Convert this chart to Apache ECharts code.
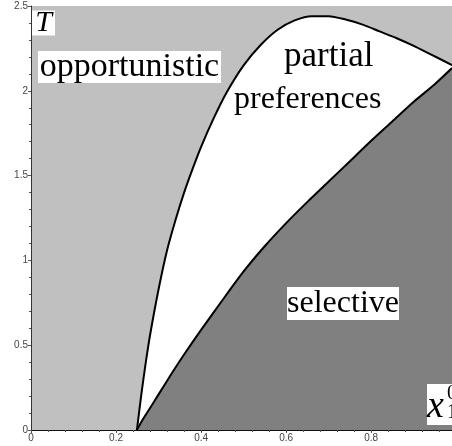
<!DOCTYPE html>
<html>
<head>
<meta charset="utf-8">
<script src="https://cdn.jsdelivr.net/npm/echarts@6/dist/echarts.min.js"></script>
<style>
  html, body { margin: 0; padding: 0; background: #fff; }
  #chart { width: 452px; height: 446px; }
</style>
</head>
<body>
<div id="chart"></div>
<script>
// Upper boundary: opportunistic / partial preferences
const upperX = [0.249, 0.26, 0.27, 0.28, 0.30, 0.32, 0.34, 0.36, 0.38, 0.40, 0.43, 0.46, 0.50, 0.54, 0.58, 0.62, 0.66, 0.70, 0.74, 0.78, 0.82, 0.86, 0.90, 0.94, 0.99];
const upperT = [0.0, 0.22, 0.40, 0.56, 0.83, 1.06, 1.24, 1.40, 1.54, 1.67, 1.84, 1.99, 2.15, 2.27, 2.36, 2.415, 2.44, 2.44, 2.42, 2.39, 2.35, 2.31, 2.265, 2.215, 2.152];

// Lower boundary: partial preferences / selective
const lowerX = [0.249, 0.26, 0.28, 0.30, 0.33, 0.36, 0.40, 0.45, 0.50, 0.55, 0.60, 0.65, 0.70, 0.75, 0.80, 0.85, 0.90, 0.95, 0.99];
const lowerT = [0.0, 0.05, 0.13, 0.21, 0.33, 0.445, 0.59, 0.765, 0.935, 1.085, 1.22, 1.345, 1.465, 1.585, 1.705, 1.82, 1.935, 2.04, 2.134];

const xTicks = [0, 0.2, 0.4, 0.6, 0.8];
const yTicks = [0, 0.5, 1, 1.5, 2, 2.5];

const LIGHT = '#c0c0c0';
const DARK = '#808080';
const SERIF = '"Liberation Serif", "DejaVu Serif", serif';

const pairs = (xs, ys) => xs.map((x, i) => [x, ys[i]]);

const chart = echarts.init(document.getElementById('chart'), null, { renderer: 'canvas' });

function boxedText(left, top, w, h, text, style) {
  return {
    type: 'group', left: left, top: top, z: 100, zlevel: 1,
    children: [
      { type: 'rect', z: 100, zlevel: 1, shape: { x: 0, y: 0, width: w, height: h }, style: { fill: '#fff' } },
      { type: 'text', z: 101, zlevel: 1, x: w / 2, y: h / 2, style: Object.assign({ text: text, align: 'center', verticalAlign: 'middle', fill: '#000', font: '32px ' + SERIF }, style || {}) }
    ]
  };
}

const axisLabelStyle = { color: '#444', fontSize: 10, fontFamily: 'Arial, "Liberation Sans", sans-serif' };

chart.setOption({
  animation: false,
  grid: { left: 31, right: 0, top: 6, bottom: 16, show: true, backgroundColor: LIGHT, borderWidth: 0 },
  xAxis: [{
    type: 'value', min: 0, max: 0.99, interval: 0.2,
    axisLine: { show: true, onZero: false, lineStyle: { color: '#333', width: 1 } },
    axisTick: { show: true, length: 3, lineStyle: { color: '#555' } },
    minorTick: { show: true, splitNumber: 5, length: 2, lineStyle: { color: '#555' } },
    axisLabel: Object.assign({ showMaxLabel: false, margin: 3,
      formatter: v => (xTicks.indexOf(+v.toFixed(2)) >= 0 ? String(+v.toFixed(2)) : '') }, axisLabelStyle),
    splitLine: { show: false }
  }, {
    type: 'value', position: 'top', min: 0, max: 0.99,
    axisLine: { show: true, lineStyle: { color: '#111', width: 1 } },
    axisTick: { show: false }, axisLabel: { show: false }, splitLine: { show: false }
  }],
  yAxis: {
    type: 'value', min: 0, max: 2.5, interval: 0.5,
    axisLine: { show: true, onZero: false, lineStyle: { color: '#333', width: 1 } },
    axisTick: { show: true, length: 3, lineStyle: { color: '#555' } },
    minorTick: { show: true, splitNumber: 5, length: 2, lineStyle: { color: '#555' } },
    axisLabel: Object.assign({ margin: 3,
      formatter: v => (yTicks.indexOf(+v.toFixed(2)) >= 0 ? String(+v.toFixed(2)) : '') }, axisLabelStyle),
    splitLine: { show: false }
  },
  series: [
    {
      name: 'upper', type: 'line', data: pairs(upperX, upperT),
      smooth: 0.25, symbol: 'none',
      lineStyle: { color: '#000', width: 2 },
      areaStyle: { color: '#fff', opacity: 1, origin: 'start' }, z: 2
    },
    {
      name: 'lower', type: 'line', data: pairs(lowerX, lowerT),
      smooth: 0.25, symbol: 'none',
      lineStyle: { color: '#000', width: 2 },
      areaStyle: { color: DARK, opacity: 1, origin: 'start' }, z: 2
    }
  ],
  graphic: [
    boxedText(32, 8, 23, 25, 'T', { font: 'italic 30px ' + SERIF }),
    boxedText(38, 50, 183, 32, 'opportunistic', { font: '34px ' + SERIF }),
    { type: 'text', left: 284, top: 39, z: 100, zlevel: 1, style: { text: 'partial', font: '35px ' + SERIF, fill: '#000' } },
    { type: 'text', left: 234, top: 84, z: 100, zlevel: 1, style: { text: 'preferences', font: '32px ' + SERIF, fill: '#000' } },
    boxedText(287, 287, 112, 33, 'selective'),
    {
      type: 'group', left: 427, top: 384, z: 100, zlevel: 1,
      children: [
        { type: 'rect', z: 100, zlevel: 1, shape: { x: 0, y: 0, width: 30, height: 41 }, style: { fill: '#fff' } },
        { type: 'text', z: 101, zlevel: 1, x: 0, y: 4, style: { text: 'x', font: 'italic 38px ' + SERIF, fill: '#000' } },
        { type: 'text', z: 101, zlevel: 1, x: 20, y: 0, style: { text: '0', font: '20px ' + SERIF, fill: '#000' } },
        { type: 'text', z: 101, zlevel: 1, x: 20, y: 19, style: { text: '1', font: '20px ' + SERIF, fill: '#000' } }
      ]
    }
  ]
});
</script>
</body>
</html>
